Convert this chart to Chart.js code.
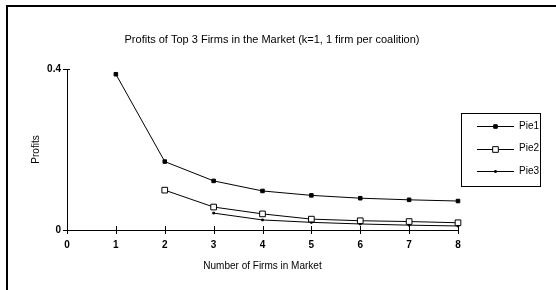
<!DOCTYPE html>
<html>
<head>
<meta charset="utf-8">
<script src="https://cdn.jsdelivr.net/npm/chart.js@4"></script>
<style>
  body { margin: 0; background: #fff; }
  #wrap { width: 556px; height: 290px; position: relative; }
</style>
</head>
<body>
<div id="wrap"><canvas id="profitChart" width="556" height="290"></canvas></div>
<script>
// values
var firms = [1, 2, 3, 4, 5, 6, 7, 8];
var pie1 = [0.387, 0.17, 0.122, 0.097, 0.086, 0.079, 0.075, 0.072];
var pie2 = [null, 0.099, 0.057, 0.040, 0.027, 0.023, 0.021, 0.018];
var pie3 = [null, null, 0.042, 0.025, 0.019, 0.015, 0.012, 0.010];
var seriesNames = ['Pie1', 'Pie2', 'Pie3'];
var chartTitle = 'Profits of Top 3 Firms in the Market (k=1, 1 firm per coalition)';

var fontName = '"Liberation Sans", Arial, sans-serif';

function toPoints(vals) {
    var pts = [];
    for (var i = 0; i < firms.length; i++) {
        if (vals[i] !== null) pts.push({x: firms[i], y: vals[i]});
    }
    return pts;
}

// frame, title, crossing tick marks and the boxed legend
var decor = {
    id: 'decor',
    beforeDraw: function(chart) {
        var ctx = chart.ctx;
        ctx.save();
        ctx.fillStyle = '#fff';
        ctx.fillRect(0, 0, chart.width, chart.height);
        ctx.fillStyle = '#000';
        ctx.fillRect(6, 5, 2, chart.height - 5);
        ctx.fillRect(6, 5, chart.width - 6, 2);
        ctx.restore();
    },
    afterDraw: function(chart) {
        var ctx = chart.ctx;
        var xs = chart.scales.x, ys = chart.scales.y;
        var area = chart.chartArea;
        ctx.save();
        ctx.fillStyle = '#000';
        ctx.font = '11px ' + fontName;
        ctx.textAlign = 'center';
        ctx.textBaseline = 'middle';
        ctx.fillText(chartTitle, 272, 40);

        ctx.strokeStyle = '#000';
        ctx.lineWidth = 1;
        ctx.beginPath();
        xs.ticks.forEach(function(t) {
            var px = Math.round(xs.getPixelForValue(t.value)) + 0.5;
            ctx.moveTo(px, area.bottom - 4);
            ctx.lineTo(px, area.bottom + 4);
        });
        ys.ticks.forEach(function(t) {
            var py = Math.round(ys.getPixelForValue(t.value)) + 0.5;
            ctx.moveTo(area.left - 4, py);
            ctx.lineTo(area.left + 3, py);
        });
        ctx.stroke();

        // legend
        ctx.strokeRect(461.5, 113.5, 79, 73);
        ctx.textAlign = 'left';
        ctx.font = '10px ' + fontName;
        chart.data.datasets.forEach(function(ds, i) {
            var ly = 126 + i * 22.5;
            ctx.beginPath();
            ctx.moveTo(477, Math.round(ly) + 0.5);
            ctx.lineTo(514, Math.round(ly) + 0.5);
            ctx.stroke();
            ctx.fillStyle = ds.pointBackgroundColor;
            ctx.strokeStyle = ds.pointBorderColor;
            Chart.helpers.drawPoint(ctx, {
                pointStyle: ds.pointStyle,
                radius: ds.pointRadius,
                borderWidth: ds.pointBorderWidth,
                rotation: 0
            }, 495.5, Math.round(ly) + 0.5);
            ctx.fillStyle = '#000';
            ctx.strokeStyle = '#000';
            ctx.fillText(ds.label, 519, ly);
        });
        ctx.restore();
    }
};

var ctx = document.getElementById('profitChart').getContext('2d');
var profitChart = new Chart(ctx, {
    type: 'line',
    data: {
        datasets: [{
            label: seriesNames[0],
            data: toPoints(pie1),
            borderColor: '#000',
            borderWidth: 1,
            pointStyle: 'rect',
            pointRadius: 2.5,
            pointBackgroundColor: '#000',
            pointBorderColor: '#000',
            pointBorderWidth: 1,
            clip: false
        }, {
            label: seriesNames[1],
            data: toPoints(pie2),
            borderColor: '#000',
            borderWidth: 1,
            pointStyle: 'rect',
            pointRadius: 4,
            pointBackgroundColor: '#fff',
            pointBorderColor: '#000',
            pointBorderWidth: 1,
            clip: false
        }, {
            label: seriesNames[2],
            data: toPoints(pie3),
            borderColor: '#000',
            borderWidth: 1,
            pointStyle: 'rect',
            pointRadius: 1.2,
            pointBackgroundColor: '#000',
            pointBorderColor: '#000',
            pointBorderWidth: 1,
            clip: false
        }]
    },
    options: {
        responsive: false,
        animation: false,
        layout: { padding: { left: 20, right: 98, top: 69, bottom: 16 } },
        plugins: {
            legend: { display: false },
            title: { display: false },
            tooltip: { enabled: false }
        },
        scales: {
            x: {
                type: 'linear',
                min: 0,
                max: 8,
                afterFit: function(scale) { scale.height = 44; },
                grid: { display: false, drawTicks: false },
                border: { display: true, color: '#000', width: 1 },
                ticks: {
                    stepSize: 1,
                    padding: 9,
                    color: '#000',
                    font: { family: fontName, size: 10, weight: 'bold' }
                },
                title: {
                    display: true,
                    text: 'Number of Firms in Market',
                    color: '#000',
                    padding: { top: 0, bottom: 2 },
                    font: { family: fontName, size: 10 }
                }
            },
            y: {
                min: 0,
                max: 0.4,
                afterFit: function(scale) { scale.width = 47; },
                grid: { display: false, drawTicks: false },
                border: { display: true, color: '#000', width: 1 },
                ticks: {
                    stepSize: 0.4,
                    padding: 6,
                    color: '#000',
                    font: { family: fontName, size: 10, weight: 'bold' }
                },
                title: {
                    display: true,
                    text: 'Profits',
                    color: '#000',
                    padding: { top: 10, bottom: 0 },
                    font: { family: fontName, size: 10 }
                }
            }
        }
    },
    plugins: [decor]
});
</script>
</body>
</html>
